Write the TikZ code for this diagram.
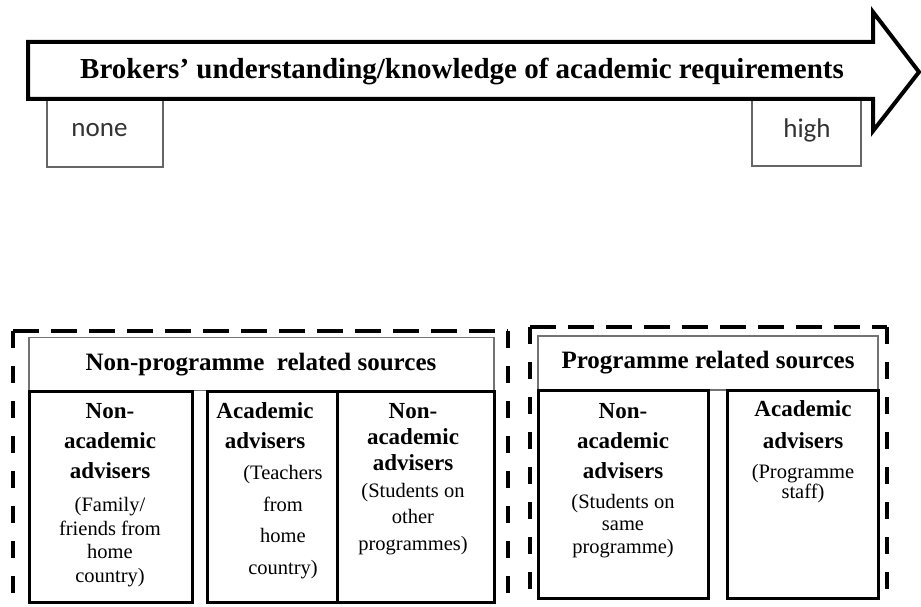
\documentclass[tikz,border=0pt]{standalone}
\usepackage{fontspec}
\setmainfont{Liberation Serif}
\newfontfamily\calib{Carlito}
\tikzset{
  arrowshape/.style={draw=black, line width=4pt, line join=miter, fill=white},
  scalebox/.style={draw=black!60, line width=1.2pt, inner sep=0pt},
  hdrbox/.style={draw=black!55, line width=1.3pt, inner sep=0pt},
  subbox/.style={draw=black, line width=3pt, inner sep=0pt},
  hdash/.style={line width=4pt, dash pattern=on 26pt off 12pt},
  vdash/.style={line width=4pt, dash pattern=on 17pt off 18pt},
  scaletxt/.style={font=\calib\fontsize{27}{32}\selectfont, text=black!80},
  titletxt/.style={font=\bfseries\fontsize{29}{34}\selectfont},
  hdrtxt/.style={font=\bfseries\fontsize{25}{30}\selectfont},
}
\newcommand{\boldlines}[1]{\fontsize{23}{#1}\selectfont\bfseries}
\newcommand{\normlines}[1]{\fontsize{20.5}{#1}\selectfont}
\begin{document}
\begin{tikzpicture}[x=1pt,y=-1pt]
\useasboundingbox[fill=white] (0,0) rectangle (921,607);

% scale end boxes
\node[scalebox, minimum width=116pt, minimum height=67pt] (nonebox) at (105,133.5) {};
\node[scalebox, minimum width=109pt, minimum height=66pt] (highbox) at (806.5,133) {};
\node[scaletxt] (none) at (99.5,130) {none};
\node[scaletxt] (high) at (807,130) {high};

% big arrow
\draw[arrowshape] (28,42) -- (873,42) -- (873,12) -- (919,72) -- (873,131) -- (873,99) -- (28,99) -- cycle;
\node[titletxt] (title) at (462,71) {Brokers' understanding/knowledge of academic requirements};

% dashed groups
\draw[hdash] (13,331) -- (508,331);
\draw[vdash] (13,331) -- (13,607);
\draw[vdash] (508,331) -- (508,607);
\draw[hdash] (530,327) -- (887,327);
\draw[vdash] (530,327) -- (530,607);
\draw[vdash] (887,327) -- (887,607);

% headers
\node[hdrbox, minimum width=465pt, minimum height=53pt] (hdrL) at (261.5,364) {};
\node[hdrtxt] (hdrLt) at (261,365) {Non-programme\ \ related sources};
\node[hdrbox, minimum width=340pt, minimum height=54pt] (hdrR) at (708,363) {};
\node[hdrtxt] (hdrRt) at (708,363) {Programme related sources};

% sub boxes
\node[subbox, minimum width=163pt, minimum height=211pt] (b1) at (110.5,496.5) {};
\node[subbox, minimum width=130pt, minimum height=211pt] (b2) at (272,496.5) {};
\node[subbox, minimum width=157pt, minimum height=211pt] (b3) at (415.5,496.5) {};
\node[subbox, minimum width=170pt, minimum height=208pt] (b4) at (623,494) {};
\node[subbox, minimum width=151pt, minimum height=208pt] (b5) at (802.5,494) {};

% box texts
\node[align=center, font=\boldlines{30}] (b1b) at (110,441) {Non-\\academic\\advisers};
\node[align=center, font=\normlines{23.5}] (b1n) at (110,542) {(Family/\\friends from\\home\\country)};

\node[align=center, font=\boldlines{30}] (b2b) at (265,426) {Academic\\advisers};
\node[align=center, font=\normlines{31.7}] (b2n) at (283,522) {(Teachers\\from\\home\\country)};

\node[align=center, font=\boldlines{26}] (b3b) at (413,437) {Non-\\academic\\advisers};
\node[align=center, font=\normlines{26.5}] (b3n) at (413,519) {(Students on\\other\\programmes)};

\node[align=center, font=\boldlines{30}] (b4b) at (623,441) {Non-\\academic\\advisers};
\node[align=center, font=\normlines{22.5}] (b4n) at (623,526) {(Students on\\same\\programme)};

\node[align=center, font=\boldlines{32}] (b5b) at (803,425) {Academic\\advisers};
\node[align=center, font=\normlines{20}] (b5n) at (803,484) {(Programme\\staff)};
\end{tikzpicture}
\end{document}
